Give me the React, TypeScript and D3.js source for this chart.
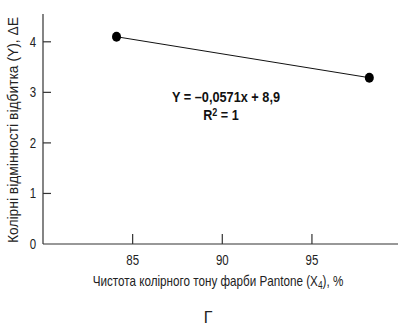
import React from "react";
import * as d3 from "d3";

const xValues = [84.1, 98.2];
const yValues = [4.1, 3.29];
const xTicks = [85, 90, 95];
const yTicks = [0, 1, 2, 3, 4];
const equationText = "Y = –0,0571x + 8,9";
const yLabel = "Колірні відмінності відбитка (Y), ΔE";
const panelLabel = "Г";

const W = 398;
const H = 327;
const left = 43;
const right = 398;
const top = 14;
const bottom = 244;
const sx = 0.82;

export default function App() {
  const x = d3.scaleLinear().domain([80, 99.8]).range([left, right]);
  const y = d3.scaleLinear().domain([0, 4.55]).range([bottom, top]);
  const line = d3
    .line<number>()
    .x((_, i) => x(xValues[i]))
    .y((d) => y(d));
  const font = "'Liberation Sans', Arial, sans-serif";
  return (
    <svg
      width={W}
      height={H}
      style={{ position: "absolute", left: 0, top: 0, background: "#fff" }}
      fontFamily={font}
    >
      <line x1={left} x2={left} y1={top} y2={bottom} stroke="#333" strokeWidth={1.2} />
      <line x1={left} x2={right} y1={bottom} y2={bottom} stroke="#333" strokeWidth={1.2} />
      {yTicks.map((t) => (
        <g key={"y" + t}>
          {t > 0 && (
            <line x1={left} x2={left + 8} y1={y(t)} y2={y(t)} stroke="#333" strokeWidth={1.2} />
          )}
          <text
            transform={`translate(33, ${y(t) + 5}) scale(${sx}, 1)`}
            textAnchor="middle"
            fontSize={14}
            fill="#222"
          >
            {t}
          </text>
        </g>
      ))}
      {xTicks.map((t) => (
        <g key={"x" + t}>
          <line x1={x(t)} x2={x(t)} y1={bottom} y2={bottom - 10} stroke="#333" strokeWidth={1.2} />
          <text
            transform={`translate(${x(t)}, 265) scale(${sx}, 1)`}
            textAnchor="middle"
            fontSize={14}
            fill="#222"
          >
            {t}
          </text>
        </g>
      ))}
      <path d={line(yValues) || ""} fill="none" stroke="#111" strokeWidth={1} />
      {yValues.map((v, i) => (
        <ellipse key={i} cx={x(xValues[i])} cy={y(v)} rx={4.5} ry={5} fill="#000" />
      ))}
      <text
        x={226}
        y={102}
        textAnchor="middle"
        fontSize={14}
        fontWeight="bold"
        fill="#111"
        textLength={108}
        lengthAdjust="spacingAndGlyphs"
      >
        {equationText}
      </text>
      <text
        transform={`translate(221, 120) scale(0.9, 1)`}
        textAnchor="middle"
        fontSize={14}
        fontWeight="bold"
        fill="#111"
      >
        R<tspan dy={-4} fontSize={10}>2</tspan>
        <tspan dy={4}> = 1</tspan>
      </text>
      <text
        transform={`translate(18, 130) rotate(-90)`}
        textAnchor="middle"
        fontSize={14}
        fill="#222"
        textLength={226}
        lengthAdjust="spacingAndGlyphs"
      >
        {yLabel}
      </text>
      <text
        transform={`translate(218, 286) scale(0.835, 1)`}
        textAnchor="middle"
        fontSize={14}
        fill="#222"
      >
        Чистота колірного тону фарби Pantone (X<tspan dy={3} fontSize={10}>4</tspan>
        <tspan dy={-3}>), %</tspan>
      </text>
      <text x={208} y={323} textAnchor="middle" fontSize={16} fill="#222">
        {panelLabel}
      </text>
    </svg>
  );
}
